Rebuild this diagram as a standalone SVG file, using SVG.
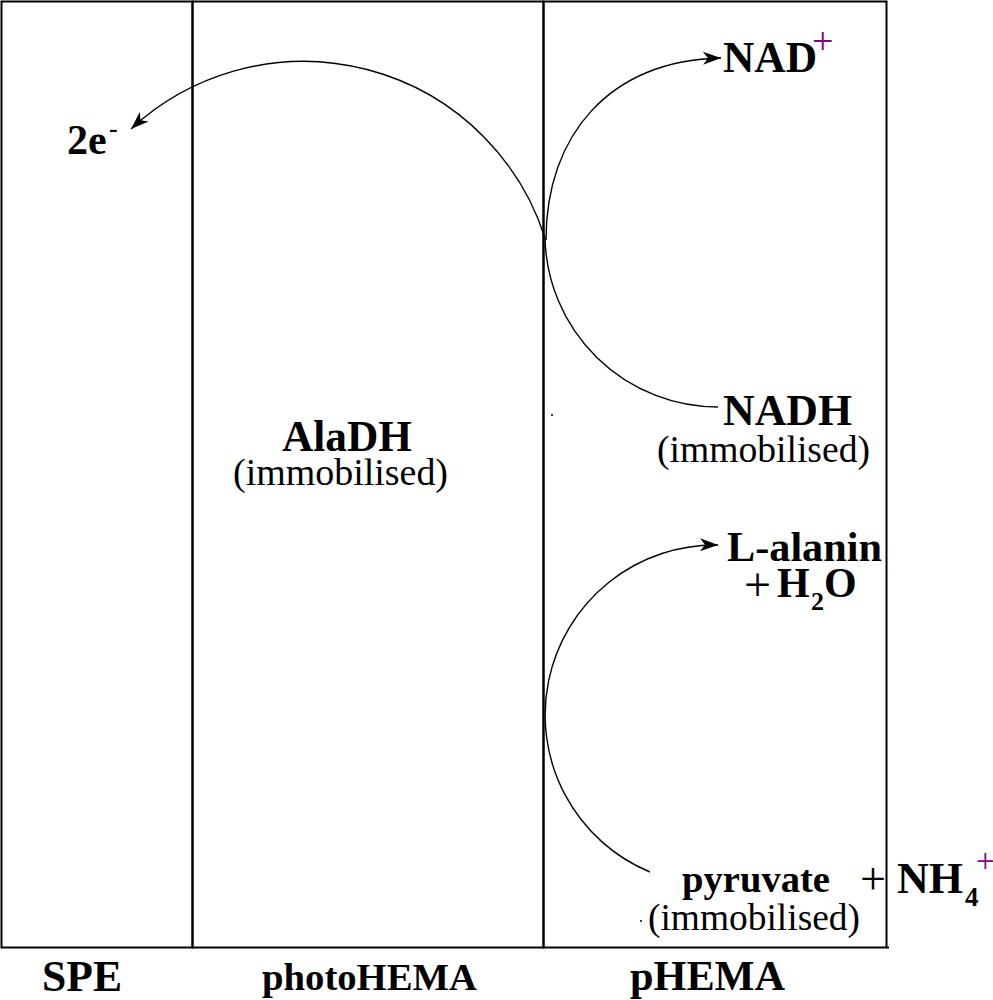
<svg xmlns="http://www.w3.org/2000/svg" width="993" height="1000" viewBox="0 0 993 1000">
<style>
.frame{fill:none;stroke:#000;stroke-width:2}
.conn{fill:none;stroke:#000;stroke-width:1.4}
.b{font-family:"Liberation Serif","Times New Roman",serif;font-weight:bold;fill:#000}
.r{font-family:"Liberation Serif","Times New Roman",serif;font-weight:normal;fill:#000}
.pur{fill:#800080;font-weight:normal}
</style>
<defs>
<marker id="ah" markerUnits="userSpaceOnUse" markerWidth="24" markerHeight="16" viewBox="-20 -8 22 16" refX="0" refY="0" orient="auto">
<path d="M0,0 L-18,-6.5 L-13,0 L-18,6.5 Z" fill="#000"/>
</marker>
</defs>
<rect width="993" height="1000" fill="#fff"/>
<g id="layers">
<g id="SPE"><rect class="frame" x="1.5" y="1.5" width="191" height="946"/></g>
<g id="photoHEMA"><rect class="frame" x="192.5" y="1.5" width="351" height="946"/></g>
<g id="pHEMA"><rect class="frame" x="543.5" y="1.5" width="343" height="946"/></g>
<line class="frame" x1="886.5" y1="947.5" x2="889" y2="947.5"/>
</g>
<g id="connectors">
<path class="conn" d="M718,407 A173,173 0 0 1 545,238 A253.6,253.6 0 0 0 131,129" marker-end="url(#ah)"/>
<path class="conn" d="M546,240 C546,135 610,60 721,58" marker-end="url(#ah)"/>
<path class="conn" d="M650,872 A170,170 0 0 1 718,545" marker-end="url(#ah)"/>
</g>
<g id="electrons">
<text class="b" x="67" y="154" font-size="42">2e<tspan x="109" y="137" font-size="26">-</tspan></text>
</g>
<g id="nadplus">
<text class="b" x="723" y="72" font-size="44" textLength="94" lengthAdjust="spacingAndGlyphs">NAD</text>
<text class="r pur" x="812" y="54" font-size="38">+</text>
</g>
<g id="nadh">
<text class="b" x="723" y="425" font-size="44" textLength="129" lengthAdjust="spacingAndGlyphs">NADH</text>
<text class="r" x="657" y="462" font-size="38" textLength="213" lengthAdjust="spacingAndGlyphs">(immobilised)</text>
</g>
<g id="aladh">
<text class="b" x="282" y="451" font-size="44" textLength="130" lengthAdjust="spacingAndGlyphs">AlaDH</text>
<text class="r" x="233" y="485" font-size="38" textLength="215" lengthAdjust="spacingAndGlyphs">(immobilised)</text>
</g>
<g id="alanine">
<text class="b" x="727" y="561" font-size="43" textLength="155" lengthAdjust="spacingAndGlyphs">L-alanin</text>
<text class="b" x="744" y="601" font-size="42"><tspan class="r" font-size="48">+</tspan><tspan x="777" y="597">H</tspan><tspan x="811" y="610" font-size="26">2</tspan><tspan x="824" y="597">O</tspan></text>
</g>
<g id="pyruvate">
<text class="b" x="682" y="892" font-size="38" textLength="148" lengthAdjust="spacingAndGlyphs">pyruvate</text>
<text class="r" x="648" y="930" font-size="38" textLength="212" lengthAdjust="spacingAndGlyphs">(immobilised)</text>
<circle cx="641" cy="921" r="1" fill="#000"/>
<circle cx="552" cy="415" r="1" fill="#000"/>
</g>
<g id="ammonium">
<text class="b" x="860" y="894" font-size="44"><tspan class="r" font-size="46">+</tspan><tspan x="897" y="893">NH</tspan><tspan x="965" y="906" font-size="27">4</tspan><tspan class="pur" x="976" y="872" font-size="33">+</tspan></text>
</g>
<g id="labels">
<text class="b" x="42" y="991" font-size="44" textLength="80" lengthAdjust="spacingAndGlyphs">SPE</text>
<text class="b" x="262" y="990" font-size="38" textLength="215" lengthAdjust="spacingAndGlyphs">photoHEMA</text>
<text class="b" x="630" y="990" font-size="42" textLength="155" lengthAdjust="spacingAndGlyphs">pHEMA</text>
</g>
</svg>
